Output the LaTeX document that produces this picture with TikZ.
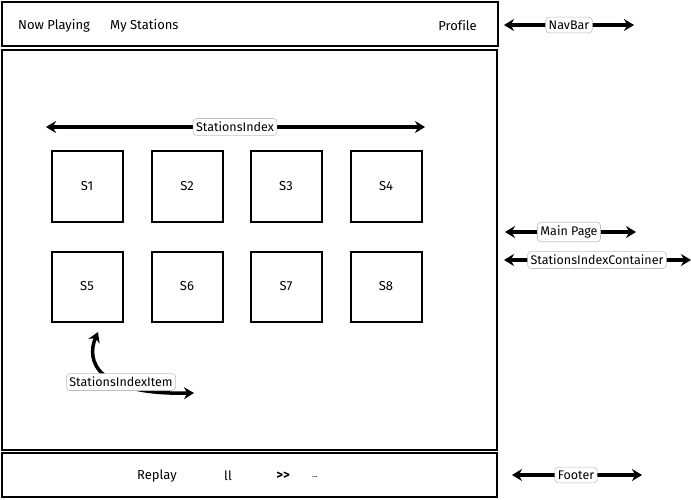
\documentclass[tikz,border=0pt]{standalone}
\usepackage{fontspec}
\setmainfont[Ligatures=NoCommon]{Fira Sans}
\usetikzlibrary{arrows.meta}
\begin{document}
\begin{tikzpicture}[x=1pt,y=-1pt,
  frame/.style={draw=black,line width=2pt},
  station/.style={draw=black,line width=2pt,minimum width=71pt,minimum height=70pt,font=\fontsize{13}{15}\selectfont},
  txt/.style={font=\fontsize{13}{15}\selectfont,inner sep=0pt},
  tag/.style={draw=black!25,fill=white,rounded corners=3.5pt,line width=0.6pt,inner xsep=3pt,inner ysep=3.5pt,font=\fontsize{12.5}{14}\selectfont},
  dbl/.style={line width=3.5pt,{Stealth[length=10pt,width=12pt]}-{Stealth[length=10pt,width=12pt]}}
]
\useasboundingbox (0,0) rectangle (691,500);
\fill[white] (0,0) rectangle (691,500);
% frames
\draw[frame] (2,2) rectangle (498,46);
\draw[frame] (2,50) rectangle (497,450);
\draw[frame] (2,453) rectangle (497,497);
% navbar texts
\node[txt,anchor=west] (np) at (18,25.5) {Now Playing};
\node[txt,anchor=west] (ms) at (110,25.5) {My Stations};
\node[txt,anchor=east] (pr) at (477,25.5) {Profile};
% footer texts
\node[txt,anchor=west] (rp) at (137,476) {Replay};
\node[txt] (pa) at (228,476) {ll};
\node[txt,font=\fontsize{13}{15}\selectfont\bfseries] (ff) at (283,476) {{>}{>}};
\node[txt,font=\fontsize{8}{9}\selectfont] (el) at (315,477) {...};
% stations
\node[station] (s1) at (87,186.5) {S1};
\node[station] (s2) at (187,186.5) {S2};
\node[station] (s3) at (286,186.5) {S3};
\node[station] (s4) at (386,186.5) {S4};
\node[station] (s5) at (87,286.5) {S5};
\node[station] (s6) at (187,286.5) {S6};
\node[station] (s7) at (286,286.5) {S7};
\node[station] (s8) at (386,286.5) {S8};
% StationsIndex
\coordinate (siL) at (46,127);
\coordinate (siR) at (425,127);
\draw[dbl] (siL) -- (siR);
\node[tag] (si) at (235,127) {StationsIndex};
% NavBar
\coordinate (nbL) at (504,25);
\coordinate (nbR) at (634,25);
\draw[dbl] (nbL) -- (nbR);
\node[tag] (nb) at (569,25) {NavBar};
% Main Page
\coordinate (mpL) at (505,232);
\coordinate (mpR) at (636,232);
\draw[dbl] (mpL) -- (mpR);
\node[tag] (mp) at (569,232) {Main Page};
% StationsIndexContainer
\coordinate (scL) at (504,260);
\coordinate (scR) at (691,260);
\draw[dbl] (scL) -- (scR);
\node[tag] (sc) at (597,260) {StationsIndexContainer};
% Footer
\coordinate (ftL) at (512,475);
\coordinate (ftR) at (642,475);
\draw[dbl] (ftL) -- (ftR);
\node[tag] (ft) at (576,475) {Footer};
% StationsIndexItem curved
\coordinate (itA) at (98,332);
\coordinate (itB) at (194,393);
\draw[dbl] (itA) .. controls (86,360) and (95,395) .. (itB);
\node[tag] (it) at (121,382) {StationsIndexItem};
\end{tikzpicture}
\end{document}
